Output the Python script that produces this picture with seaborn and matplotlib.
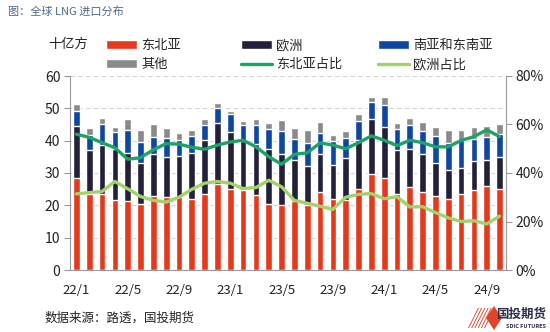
import numpy as np
import pandas as pd
import matplotlib
matplotlib.use("Agg")
import matplotlib.pyplot as plt
import seaborn as sns
from matplotlib.patches import Patch, Polygon
from matplotlib.lines import Line2D

months = ["22/1", "22/2", "22/3", "22/4", "22/5", "22/6", "22/7", "22/8", "22/9", "22/10", "22/11", "22/12",
          "23/1", "23/2", "23/3", "23/4", "23/5", "23/6", "23/7", "23/8", "23/9", "23/10", "23/11", "23/12",
          "24/1", "24/2", "24/3", "24/4", "24/5", "24/6", "24/7", "24/8", "24/9", "24/10"]

# 十亿方
northeast_asia = [28.6, 23.4, 23.6, 21.5, 21.2, 20.3, 22.8, 22.7, 22.5, 22.0, 23.5, 26.5,
                  25.0, 24.6, 23.2, 20.5, 20.2, 21.4, 20.1, 24.0, 22.0, 21.5, 25.2, 29.8,
                  28.5, 23.4, 25.7, 24.1, 22.8, 22.0, 23.4, 24.6, 25.9, 25.0]
europe = [15.9, 13.7, 15.0, 15.8, 15.1, 12.8, 13.0, 12.3, 12.7, 14.3, 16.6, 19.0,
          17.7, 15.4, 15.9, 16.8, 15.8, 12.6, 12.1, 11.9, 10.4, 13.1, 14.9, 16.8,
          15.6, 13.7, 11.8, 11.9, 10.4, 8.8, 8.3, 9.1, 8.1, 9.8]
south_se_asia = [4.8, 4.8, 6.7, 5.5, 7.0, 6.5, 5.4, 5.7, 4.9, 5.0, 4.9, 4.5,
                 5.4, 5.0, 5.7, 6.2, 7.0, 6.4, 7.2, 6.6, 7.4, 6.1, 6.1, 5.5,
                 6.9, 6.4, 7.3, 7.1, 8.3, 8.5, 8.5, 6.7, 7.0, 7.4]
other = [2.0, 2.1, 1.8, 1.5, 3.3, 3.7, 4.1, 3.1, 2.4, 2.1, 1.7, 1.7,
         1.1, 1.2, 1.8, 2.0, 3.3, 3.6, 3.9, 3.2, 2.1, 2.4, 2.0, 1.5,
         2.4, 2.0, 2.2, 2.8, 2.8, 4.0, 3.1, 3.9, 3.5, 3.1]
# 占比 (%)
ne_share = [56.0, 54.7, 52.5, 50.4, 45.7, 46.3, 49.6, 52.1, 51.9, 50.6, 49.8, 51.5,
            52.8, 53.5, 50.8, 46.7, 43.6, 47.7, 48.3, 52.4, 51.5, 50.0, 52.5, 55.3,
            53.5, 51.3, 53.5, 52.5, 50.8, 50.8, 53.4, 55.0, 57.8, 55.0]
eu_share = [31.4, 31.9, 32.4, 36.5, 33.5, 30.3, 28.7, 28.0, 30.0, 33.3, 35.8, 36.5,
            35.8, 33.6, 34.0, 37.0, 34.3, 28.7, 27.5, 26.3, 25.0, 30.0, 31.2, 31.5,
            29.4, 30.2, 26.0, 26.1, 23.7, 21.5, 20.0, 20.3, 19.0, 22.2]

C_RED = "#E5391C"
C_BLACK = "#23213A"
C_BLUE = "#0D47A1"
C_GRAY = "#8A8A8A"
C_GREEN = "#1FA265"
C_LGREEN = "#A3D16B"

sns.set_theme(style="white")
plt.rcParams["font.family"] = ["Noto Sans CJK SC", "DejaVu Sans"]
plt.rcParams["axes.unicode_minus"] = False

df = pd.DataFrame({"month": months, "ne": northeast_asia, "eu": europe,
                   "sea": south_se_asia, "oth": other})
df["c1"] = df["ne"]
df["c2"] = df["c1"] + df["eu"]
df["c3"] = df["c2"] + df["sea"]
df["c4"] = df["c3"] + df["oth"]

fig = plt.figure(figsize=(5.5, 3.32), dpi=100)
ax = fig.add_axes([70 / 550, 1 - 270 / 332, 436 / 550, 194 / 332])

for col, colr in [("c4", C_GRAY), ("c3", C_BLUE), ("c2", C_BLACK), ("c1", C_RED)]:
    sns.barplot(data=df, x="month", y=col, order=months, color=colr, width=0.52,
                saturation=1, errorbar=None, ax=ax, zorder=2)

ax.set_xlim(-0.5, len(months) - 0.5)
ax.set_ylim(0, 60)
ax.set_yticks(range(0, 61, 10))
ax.set_xlabel("")
ax.set_ylabel("")
ax.set_xticks(range(0, len(months), 4))
ax.set_xticklabels([months[i] for i in range(0, len(months), 4)], fontsize=9.5, color="#222222")
ax.set_xticks(np.arange(-0.5, len(months), 4), minor=True)
ax.tick_params(axis="x", which="major", length=0, pad=10)
ax.tick_params(axis="x", which="minor", length=4, color="#999999", width=0.8, direction="out")
ax.tick_params(axis="y", length=4, color="#999999", width=0.8, direction="out", labelsize=10,
               labelcolor="#222222", pad=3, left=True)
ax.yaxis.grid(True, linestyle=(0, (4, 3)), color="#D5D5D5", linewidth=0.8, zorder=0)
ax.set_axisbelow(True)
for s in ["top", "right"]:
    ax.spines[s].set_visible(False)
for s in ["left", "bottom"]:
    ax.spines[s].set_color("#999999")
    ax.spines[s].set_linewidth(0.8)

ax2 = ax.twinx()
idx = np.arange(len(months))
sns.lineplot(x=idx, y=ne_share, ax=ax2, color=C_GREEN, linewidth=2.4)
sns.lineplot(x=idx, y=eu_share, ax=ax2, color=C_LGREEN, linewidth=2.4)
ax2.set_ylim(0, 80)
ax2.set_yticks(range(0, 81, 20))
ax2.set_yticklabels([f"{v}%" for v in range(0, 81, 20)])
ax2.tick_params(axis="y", length=4, color="#999999", width=0.8, direction="out", labelsize=10,
                labelcolor="#222222", pad=3, right=True)
ax2.set_xlim(-0.5, len(months) - 0.5)
for s in ["top", "left", "bottom"]:
    ax2.spines[s].set_visible(False)
ax2.spines["right"].set_color("#999999")
ax2.spines["right"].set_linewidth(0.8)
ax2.grid(False)

# legends
legend_cols = [
    (103, [Patch(facecolor=C_RED), Patch(facecolor=C_GRAY)], ["东北亚", "其他"]),
    (238, [Patch(facecolor=C_BLACK), Line2D([], [], color=C_GREEN, lw=2.4)], ["欧洲", "东北亚占比"]),
    (375, [Patch(facecolor=C_BLUE), Line2D([], [], color=C_LGREEN, lw=2.4)], ["南亚和东南亚", "欧洲占比"]),
]
for xpx, hs, ls in legend_cols:
    fig.legend(hs, ls, loc="upper left", bbox_to_anchor=(xpx / 550 - 0.012, 1 - 30 / 332),
               frameon=False, fontsize=9.5, handlelength=2.4, handleheight=0.6,
               handletextpad=0.3, labelspacing=0.45, borderpad=0.2)

fig.text(68 / 550, 1 - 44 / 332, "十亿方", ha="center", va="center", fontsize=9.5, color="#222222")
fig.text(8 / 550, 1 - 12 / 332, "图：全球 LNG 进口分布", ha="left", va="center", fontsize=8,
         color="#4C6A8C")
fig.text(45 / 550, 1 - 318 / 332, "数据来源：路透，国投期货", ha="left", va="center", fontsize=9,
         color="#222222")

# logo
for k in range(6):
    x0 = 468 + k * 3.2
    fig.patches.append(Polygon([(x0 / 550, 1 - 328 / 332), ((x0 + 10) / 550, 1 - 308 / 332),
                                ((x0 + 11) / 550, 1 - 308 / 332), ((x0 + 1) / 550, 1 - 328 / 332)],
                               closed=True, transform=fig.transFigure, facecolor="#E0452A",
                               edgecolor="none"))
fig.patches.append(Polygon([(486 / 550, 1 - 318 / 332), (494 / 550, 1 - 306 / 332),
                            (502 / 550, 1 - 318 / 332), (494 / 550, 1 - 330 / 332)],
                           closed=True, transform=fig.transFigure, facecolor="#E0452A",
                           edgecolor="none"))
fig.text(546 / 550, 1 - 314 / 332, "国投期货", ha="right", va="center", fontsize=9,
         fontweight="bold", color="#2B2F4A")
fig.text(546 / 550, 1 - 326 / 332, "SDIC FUTURES", ha="right", va="center", fontsize=4,
         fontweight="bold", color="#2B2F4A")

fig.savefig("out.png", dpi=100)
